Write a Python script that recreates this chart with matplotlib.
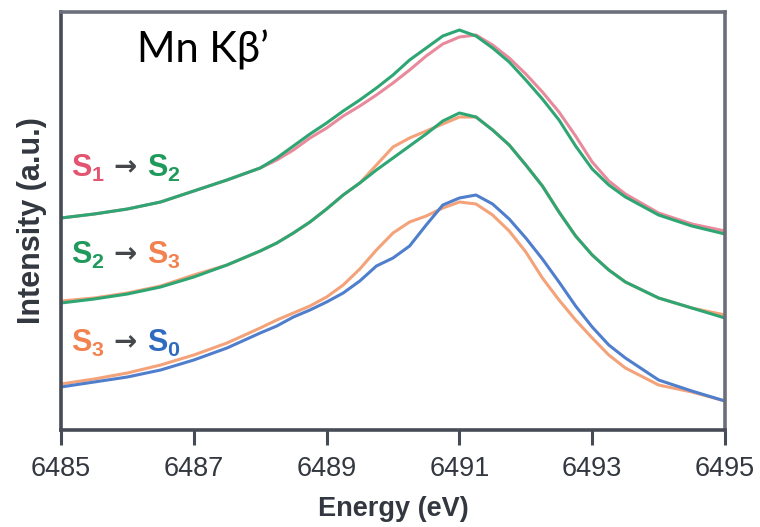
import numpy as np
import matplotlib
matplotlib.use('Agg')
import matplotlib.pyplot as plt

# Mn Kbeta' spectra (intensity in arbitrary units)
energy = [6485, 6485.5, 6486, 6486.5, 6487, 6487.5, 6488, 6488.25, 6488.5, 6488.75,
          6489, 6489.25, 6489.5, 6489.75, 6490, 6490.25, 6490.5, 6490.75, 6491, 6491.25,
          6491.5, 6491.75, 6492, 6492.25, 6492.5, 6492.75, 6493, 6493.25, 6493.5, 6494,
          6494.5, 6495]

# top pair: S1 -> S2
s1_top = [2.12, 2.16, 2.21, 2.28, 2.39, 2.50, 2.62, 2.70, 2.80, 2.92,
          3.02, 3.14, 3.24, 3.35, 3.47, 3.60, 3.74, 3.86, 3.93, 3.95,
          3.85, 3.72, 3.56, 3.38, 3.18, 2.94, 2.68, 2.49, 2.36, 2.17,
          2.06, 1.99]
s2_top = [2.12, 2.16, 2.21, 2.28, 2.39, 2.50, 2.62, 2.72, 2.84, 2.96,
          3.07, 3.19, 3.30, 3.42, 3.55, 3.70, 3.82, 3.94, 4.00, 3.94,
          3.82, 3.68, 3.50, 3.31, 3.10, 2.84, 2.61, 2.45, 2.33, 2.15,
          2.04, 1.96]

# middle pair: S2 -> S3
s2_mid = [1.27, 1.31, 1.36, 1.43, 1.53, 1.65, 1.79, 1.87, 1.97, 2.08,
          2.21, 2.35, 2.47, 2.60, 2.72, 2.84, 2.96, 3.09, 3.17, 3.13,
          3.00, 2.85, 2.65, 2.44, 2.18, 1.94, 1.75, 1.60, 1.48, 1.32,
          1.22, 1.12]
s3_mid = [1.29, 1.32, 1.37, 1.44, 1.55, 1.65, 1.79, 1.87, 1.97, 2.08,
          2.21, 2.35, 2.47, 2.65, 2.83, 2.92, 2.99, 3.06, 3.13, 3.13,
          3.00, 2.85, 2.65, 2.44, 2.18, 1.94, 1.75, 1.60, 1.48, 1.32,
          1.22, 1.15]

# bottom pair: S3 -> S0
s3_bot = [0.46, 0.51, 0.57, 0.65, 0.75, 0.87, 1.02, 1.10, 1.17, 1.24,
          1.33, 1.45, 1.61, 1.80, 1.97, 2.08, 2.14, 2.22, 2.28, 2.26,
          2.15, 1.99, 1.78, 1.52, 1.30, 1.10, 0.92, 0.75, 0.62, 0.45,
          0.38, 0.29]
s0_bot = [0.43, 0.48, 0.53, 0.60, 0.70, 0.82, 0.97, 1.04, 1.13, 1.20,
          1.28, 1.37, 1.49, 1.64, 1.72, 1.84, 2.05, 2.25, 2.32, 2.35,
          2.26, 2.11, 1.92, 1.71, 1.48, 1.24, 1.03, 0.85, 0.72, 0.50,
          0.39, 0.29]

xticks = [6485, 6487, 6489, 6491, 6493, 6495]

#colours
pink = '#e98a9c'
green = '#2ea673'
orange = '#f4a27a'
blue = '#4f7fcc'
pink_t = '#e2546f'
green_t = '#1f9a5c'
orange_t = '#f2824f'
blue_t = '#2f6bbf'
axcol = '#474b55'

plt.rcParams['mathtext.fontset'] = 'custom'
plt.rcParams['mathtext.bf'] = 'Liberation Sans:bold'
plt.rcParams['mathtext.rm'] = 'Liberation Sans'

W, H = 760, 527
fig = plt.figure(figsize=(W / 100, H / 100), dpi=100)
ax = fig.add_axes([61 / W, 1 - 430 / H, (725 - 61) / W, (430 - 12) / H])

line_kw = dict(lw=2.2, solid_joinstyle='round', solid_capstyle='round')
ax.plot(energy, s1_top, color=pink, **line_kw)
ax.plot(energy, s2_top, color=green, **line_kw)
ax.plot(energy, s3_mid, color=orange, **line_kw)
ax.plot(energy, s2_mid, color=green, **line_kw)
ax.plot(energy, s3_bot, color=orange, **line_kw)
ax.plot(energy, s0_bot, color=blue, **line_kw)

ax.set_xlim(6485, 6495)
ax.set_ylim(0, 4.18)
ax.set_xticks(xticks)
ax.set_xticklabels([str(t) for t in xticks], family='Liberation Sans', fontsize=19.5, color='#33373f')
ax.set_yticks([])
ax.tick_params(axis='x', direction='out', length=11, width=2.2, color=axcol, pad=8)
for side in ['left', 'bottom']:
    ax.spines[side].set_linewidth(2.6)
    ax.spines[side].set_color(axcol)
for side in ['top', 'right']:
    ax.spines[side].set_linewidth(2.6)
    ax.spines[side].set_color('#6b6f79')

ax.set_xlabel('Energy (eV)', family='Liberation Sans', fontweight='bold', fontsize=19.5, color='#33373f', labelpad=10)
ax.set_ylabel('Intensity (a.u.)', family='Liberation Sans', fontweight='bold', fontsize=22, color='#33373f', labelpad=10)

def px(x, y):
    return x / W, 1 - y / H

# Mn Kbeta' heading
fig.text(*px(137, 63), 'Mn K\u03b2\u2019', family=['Lato', 'DejaVu Sans'], fontsize=30, color='black', va='baseline')

# transition labels
rows = [(177, 'S_1', pink_t, 'S_2', green_t),
        (264, 'S_2', green_t, 'S_3', orange_t),
        (352, 'S_3', orange_t, 'S_0', blue_t)]
for y, a, ca, b, cb in rows:
    fig.text(*px(71, y), r'$\mathbf{%s}$' % a, fontsize=22, color=ca, va='baseline')
    fig.text(*px(113, y - 2), '\u2192', family='DejaVu Sans', fontweight='bold', fontsize=20, color='#45474d', va='baseline')
    fig.text(*px(147, y), r'$\mathbf{%s}$' % b, fontsize=22, color=cb, va='baseline')

fig.savefig('out.png', dpi=100)
